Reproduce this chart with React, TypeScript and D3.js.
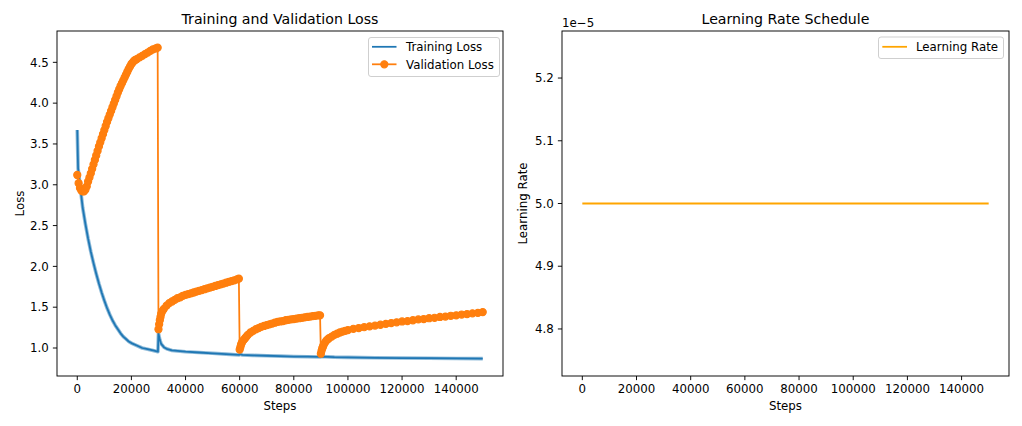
import React from 'react';
import * as d3 from 'd3';

// ---------- data ----------
const trainSteps = [
  0, 300, 1000, 2000, 3000, 4000, 5000, 6000, 7000, 8000, 9000, 10000, 11000, 12000, 13000,
  14000, 15000, 16000, 17000, 18000, 19000, 20000, 22000, 24000, 26000, 28000, 29800,
  30000, 30500, 31000, 32000, 33000, 35000, 40000, 45000, 50000, 55000, 59800,
  60000, 61000, 65000, 70000, 75000, 80000, 85000, 89800,
  90000, 95000, 100000, 110000, 120000, 130000, 140000, 149800,
];
const trainLoss = [
  3.67, 3.2, 3.0, 2.72, 2.52, 2.34, 2.18, 2.04, 1.91, 1.79, 1.68, 1.58, 1.49, 1.41, 1.34,
  1.28, 1.23, 1.18, 1.14, 1.11, 1.08, 1.06, 1.03, 1.0, 0.985, 0.97, 0.955,
  1.18, 1.1, 1.05, 1.01, 0.99, 0.97, 0.955, 0.945, 0.935, 0.925, 0.915,
  0.925, 0.915, 0.91, 0.905, 0.9, 0.895, 0.893, 0.89,
  0.895, 0.888, 0.885, 0.88, 0.877, 0.875, 0.872, 0.87,
];

const valSteps = [
  // run 1
  0, 500, 1000, 1500, 2000, 2500, 3000, 3500, 4000, 4500, 5000, 5500, 6000, 6500, 7000,
  7500, 8000, 8500, 9000, 9500, 10000, 10500, 11000, 11500, 12000, 12500, 13000, 13500,
  14000, 14500, 15000, 15500, 16000, 16500, 17000, 17500, 18000, 18500, 19000, 19500,
  20000, 20500, 21000, 21500, 22000, 23000, 24000, 25000, 26000, 27000, 28000, 29000, 29700,
  // run 2
  30000, 30250, 30500, 30750, 31000, 31500, 32000, 33000, 34000, 35000, 36000, 37000,
  38000, 39000, 40000, 41000, 42000, 43000, 44000, 45000, 46000, 47000, 48000, 49000,
  50000, 51000, 52000, 53000, 54000, 55000, 56000, 57000, 58000, 59000, 59700,
  // run 3
  60000, 60250, 60500, 60750, 61000, 61500, 62000, 62500, 63000, 64000, 65000, 66000,
  67000, 68000, 69000, 70000, 71000, 72000, 73000, 74000, 75000, 76000, 77000, 78000,
  79000, 80000, 81000, 82000, 83000, 84000, 85000, 86000, 87000, 88000, 89000, 89700,
  // run 4
  90000, 90250, 90500, 90750, 91000, 91500, 92000, 92500, 93000, 94000, 95000, 96000,
  97000, 98000, 99000, 100000, 102000, 104000, 106000, 108000, 110000, 112000, 114000,
  116000, 118000, 120000, 122000, 124000, 126000, 128000, 130000, 132000, 134000, 136000,
  138000, 140000, 142000, 144000, 146000, 148000, 149800,
];
const valLoss = [
  // run 1
  3.12, 3.02, 2.96, 2.93, 2.92, 2.92, 2.94, 2.98, 3.04, 3.09, 3.14, 3.195, 3.25, 3.305, 3.36,
  3.415, 3.47, 3.52, 3.57, 3.62, 3.67, 3.72, 3.77, 3.815, 3.86, 3.905, 3.95, 3.995,
  4.04, 4.085, 4.13, 4.17, 4.21, 4.245, 4.28, 4.315, 4.35, 4.385, 4.42, 4.45,
  4.48, 4.5, 4.52, 4.53, 4.54, 4.56, 4.58, 4.6, 4.62, 4.64, 4.66, 4.67, 4.68,
  // run 2
  1.23, 1.29, 1.34, 1.38, 1.42, 1.455, 1.48, 1.52, 1.55, 1.57, 1.59, 1.61,
  1.62, 1.64, 1.65, 1.66, 1.67, 1.68, 1.69, 1.7, 1.71, 1.72, 1.73, 1.74,
  1.75, 1.76, 1.77, 1.78, 1.79, 1.8, 1.81, 1.82, 1.83, 1.84, 1.85,
  // run 3
  0.98, 1.01, 1.04, 1.06, 1.08, 1.1, 1.12, 1.14, 1.16, 1.19, 1.21, 1.23,
  1.245, 1.26, 1.27, 1.28, 1.29, 1.3, 1.31, 1.32, 1.325, 1.33, 1.34, 1.345,
  1.35, 1.355, 1.36, 1.365, 1.37, 1.375, 1.38, 1.385, 1.39, 1.395, 1.4, 1.4,
  // run 4
  0.93, 0.965, 0.995, 1.015, 1.035, 1.065, 1.09, 1.105, 1.12, 1.14, 1.16, 1.175,
  1.19, 1.2, 1.21, 1.22, 1.235, 1.245, 1.255, 1.265, 1.275, 1.285, 1.295,
  1.305, 1.315, 1.325, 1.33, 1.34, 1.35, 1.355, 1.365, 1.37, 1.38, 1.385,
  1.395, 1.4, 1.41, 1.415, 1.425, 1.43, 1.44,
];

const lrSteps = [0, 150000];
const lrValues = [5e-5, 5e-5];

const stepTicks = [0, 20000, 40000, 60000, 80000, 100000, 120000, 140000];
const lossTicks = [1.0, 1.5, 2.0, 2.5, 3.0, 3.5, 4.0, 4.5];
const lrTicks = [4.8e-5, 4.9e-5, 5.0e-5, 5.1e-5, 5.2e-5];

const LOSS_YLIM: [number, number] = [0.657, 4.884];
const LR_YLIM: [number, number] = [4.725e-5, 5.275e-5];

// ---------- styles ----------
const FONT = "'DejaVu Sans', sans-serif";
const C_TRAIN = '#1f77b4';
const C_VAL = '#ff7f0e';
const C_LR = '#ffa500';
const PT = 85 / 72;
const TICK_FS = 10 * PT;
const TITLE_FS = 12 * PT;
const TICK_LEN = 3.5 * PT;
const TICK_PAD = 3.5 * PT;

type Box = { x0: number; x1: number; y0: number; y1: number };

function padded(ext: [number, number]): [number, number] {
  const span = ext[1] - ext[0];
  return [ext[0] - 0.05 * span, ext[1] + 0.05 * span];
}

function Axes({
  box, xScale, yScale, yTicks, yFmt, title, ylabel, ylabelX,
}: {
  box: Box; xScale: d3.ScaleLinear<number, number>; yScale: d3.ScaleLinear<number, number>;
  yTicks: number[]; yFmt: (v: number) => string; title: string; ylabel: string; ylabelX: number;
}) {
  const cx = (box.x0 + box.x1) / 2;
  const cy = (box.y0 + box.y1) / 2;
  return (
    <g fontFamily={FONT} fill="#000">
      <rect x={box.x0} y={box.y0} width={box.x1 - box.x0} height={box.y1 - box.y0}
        fill="none" stroke="#000" strokeWidth={0.8 * PT} />
      {stepTicks.map((t) => {
        const x = xScale(t);
        return (
          <g key={'x' + t}>
            <line x1={x} x2={x} y1={box.y1} y2={box.y1 + TICK_LEN} stroke="#000" strokeWidth={0.8 * PT} />
            <text x={x} y={box.y1 + TICK_LEN + TICK_PAD + 0.73 * TICK_FS} fontSize={TICK_FS}
              textAnchor="middle">{String(t)}</text>
          </g>
        );
      })}
      {yTicks.map((t) => {
        const y = yScale(t);
        return (
          <g key={'y' + t}>
            <line x1={box.x0 - TICK_LEN} x2={box.x0} y1={y} y2={y} stroke="#000" strokeWidth={0.8 * PT} />
            <text x={box.x0 - TICK_LEN - TICK_PAD} y={y + 0.36 * TICK_FS} fontSize={TICK_FS}
              textAnchor="end">{yFmt(t)}</text>
          </g>
        );
      })}
      <text x={cx} y={box.y0 - 7} fontSize={TITLE_FS} textAnchor="middle">{title}</text>
      <text x={cx} y={box.y1 + 34} fontSize={TICK_FS} textAnchor="middle">Steps</text>
      <text transform={`translate(${ylabelX},${cy}) rotate(-90)`} fontSize={TICK_FS}
        textAnchor="middle">{ylabel}</text>
    </g>
  );
}

export default function App() {
  const W = 1022;
  const H = 426;

  // ----- left: losses -----
  const boxL: Box = { x0: 57, x1: 503, y0: 31, y1: 376 };
  const allSteps = trainSteps.concat(valSteps);
  const xL = d3.scaleLinear()
    .domain(padded(d3.extent(allSteps) as [number, number]))
    .range([boxL.x0, boxL.x1]);
  const yL = d3.scaleLinear().domain(LOSS_YLIM).range([boxL.y1, boxL.y0]);

  const trainPts = trainSteps.map((s, i) => [s, trainLoss[i]] as [number, number]);
  const valPts = valSteps.map((s, i) => [s, valLoss[i]] as [number, number]);
  const lineL = d3.line<[number, number]>().x((d) => xL(d[0])).y((d) => yL(d[1]));

  // ----- right: learning rate -----
  const boxR: Box = { x0: 562, x1: 1009, y0: 31, y1: 376 };
  const xR = d3.scaleLinear()
    .domain(padded(d3.extent(lrSteps) as [number, number]))
    .range([boxR.x0, boxR.x1]);
  const yR = d3.scaleLinear().domain(LR_YLIM).range([boxR.y1, boxR.y0]);
  const lrPts = lrSteps.map((s, i) => [s, lrValues[i]] as [number, number]);
  const lineR = d3.line<[number, number]>().x((d) => xR(d[0])).y((d) => yR(d[1]));

  const legFs = TICK_FS;

  return (
    <svg width={W} height={H} viewBox={`0 0 ${W} ${H}`}
      style={{ position: 'absolute', left: 0, top: 0, background: '#fff' }}>
      <rect x={0} y={0} width={W} height={H} fill="#fff" />

      <defs>
        <clipPath id="clipL">
          <rect x={boxL.x0} y={boxL.y0} width={boxL.x1 - boxL.x0} height={boxL.y1 - boxL.y0} />
        </clipPath>
        <clipPath id="clipR">
          <rect x={boxR.x0} y={boxR.y0} width={boxR.x1 - boxR.x0} height={boxR.y1 - boxR.y0} />
        </clipPath>
      </defs>
      <g clipPath="url(#clipL)">
        <path d={lineL(trainPts) || ''} fill="none" stroke={C_TRAIN} strokeWidth={3.6}
          strokeOpacity={0.5} strokeLinejoin="round" />
        <path d={lineL(trainPts) || ''} fill="none" stroke={C_TRAIN} strokeWidth={1.5 * PT}
          strokeLinejoin="round" />
        <path d={lineL(valPts) || ''} fill="none" stroke={C_VAL} strokeWidth={1.5 * PT}
          strokeLinejoin="round" />
        {valPts.map((d, i) => (
          <circle key={i} cx={xL(d[0])} cy={yL(d[1])} r={3 * PT} fill={C_VAL}
            stroke={C_VAL} strokeWidth={1 * PT} />
        ))}
      </g>
      <Axes box={boxL} xScale={xL} yScale={yL} yTicks={lossTicks} yFmt={(v) => v.toFixed(1)}
        title="Training and Validation Loss" ylabel="Loss" ylabelX={23.5} />

      {/* left legend */}
      <g fontFamily={FONT}>
        <rect x={368.5} y={37.5} width={131} height={39} rx={2.5} fill="#fff" fillOpacity={0.8}
          stroke="#cccccc" strokeWidth={0.8 * PT} />
        <line x1={372} x2={396.5} y1={46.8} y2={46.8} stroke={C_TRAIN} strokeWidth={1.5 * PT} />
        <text x={406} y={46.8 + 0.36 * legFs} fontSize={legFs}>Training Loss</text>
        <line x1={372} x2={396.5} y1={64.3} y2={64.3} stroke={C_VAL} strokeWidth={1.5 * PT} />
        <circle cx={384.3} cy={64.3} r={3 * PT} fill={C_VAL} stroke={C_VAL} strokeWidth={1 * PT} />
        <text x={406} y={64.3 + 0.36 * legFs} fontSize={legFs}>Validation Loss</text>
      </g>

      {/* right panel */}
      <g clipPath="url(#clipR)">
        <path d={lineR(lrPts) || ''} fill="none" stroke={C_LR} strokeWidth={1.5 * PT} />
      </g>
      <Axes box={boxR} xScale={xR} yScale={yR} yTicks={lrTicks}
        yFmt={(v) => (v / 1e-5).toFixed(1)}
        title="Learning Rate Schedule" ylabel="Learning Rate" ylabelX={527} />
      <text x={562} y={26.5} fontSize={TICK_FS} fontFamily={FONT}>1e−5</text>

      {/* right legend */}
      <g fontFamily={FONT}>
        <rect x={878.5} y={37} width={125} height={21.5} rx={2.5} fill="#fff" fillOpacity={0.8}
          stroke="#cccccc" strokeWidth={0.8 * PT} />
        <line x1={882.3} x2={907} y1={46.8} y2={46.8} stroke={C_LR} strokeWidth={1.5 * PT} />
        <text x={916} y={46.8 + 0.36 * legFs} fontSize={legFs}>Learning Rate</text>
      </g>
    </svg>
  );
}
